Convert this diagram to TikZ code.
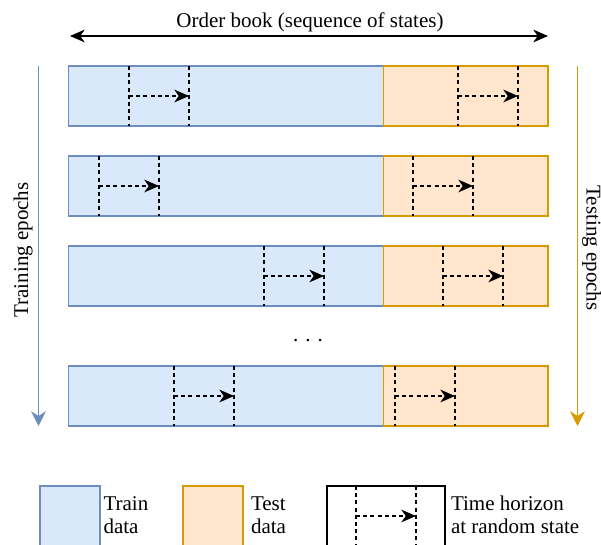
\documentclass[tikz,border=0pt]{standalone}
\usepackage{fontspec}
\setmainfont{Liberation Serif}
\usetikzlibrary{arrows.meta}

\definecolor{trainfill}{HTML}{DAE8FC}
\definecolor{trainline}{HTML}{6C8EBF}
\definecolor{testfill}{HTML}{FFE6CC}
\definecolor{testline}{HTML}{D79B00}

\tikzset{
  lbl/.style={font=\fontsize{15.75pt}{17pt}\selectfont, inner sep=0pt, outer sep=0pt},
  box/.style={line width=1pt, inner sep=0pt, outer sep=0pt, anchor=north west, minimum height=45pt},
  trainrect/.style={box, draw=trainline, fill=trainfill, minimum width=236.25pt},
  testrect/.style={box, draw=testline, fill=testfill, minimum width=123.4pt},
  dashline/.style={line width=1pt, dash pattern=on 3pt off 2.4pt},
  dasharrow/.style={dashline, -{Stealth[length=11pt, width=9.5pt, inset=3.3pt]}},
  epocharrow/.style={line width=1.1pt, -{Stealth[length=11pt, width=11pt, inset=3.5pt]}},
}

% a time-horizon marker: two dashed bounds 60px apart and a dashed arrow between them
\newcommand\horizonmark[4]{%
  \coordinate (#1-lt) at (#2,#3);
  \coordinate (#1-lb) at (#2,#3+#4);
  \coordinate (#1-rt) at (#2+60,#3);
  \coordinate (#1-rb) at (#2+60,#3+#4);
  \coordinate (#1-s) at (#2,#3+#4/2);
  \coordinate (#1-e) at (#2+60,#3+#4/2);
  \draw[dashline] (#1-lt) -- (#1-lb);
  \draw[dashline] (#1-rt) -- (#1-rb);
  \draw[dasharrow] (#1-s) -- (#1-e);
}

\begin{document}
\begin{tikzpicture}[x=0.75pt, y=-0.75pt]
\clip (0,0) rectangle (601,545);
\fill[white] (0,0) rectangle (601,545);

% header: the whole order book
\node[lbl, anchor=base] (title) at (310,28) {Order book (sequence of states)};
\coordinate (bookL) at (70,36);
\coordinate (bookR) at (548,36);
\draw[line width=1.3pt, {Stealth[length=11pt, width=9.5pt, inset=3.3pt]}-{Stealth[length=11pt, width=9.5pt, inset=3.3pt]}] (bookL) -- (bookR);

% epochs: train split followed by test split
\foreach \row/\top/\xa/\xb in {1/66/129/458, 2/156/99/413, 3/246/264/443, 4/366/174/395} {
  \node[trainrect] (train\row) at (68.5,\top) {};
  \node[testrect] (test\row) at (383.5,\top) {};
  \horizonmark{h\row a}{\xa}{\top}{60}
  \horizonmark{h\row b}{\xb}{\top}{60}
}

\node[lbl, anchor=base] (dots) at (308,342) {. . .};

% epoch direction arrows
\coordinate (trainS) at (38.5,66);
\coordinate (trainE) at (38.5,426);
\draw[epocharrow, trainline] (trainS) -- (trainE);
\node[lbl, rotate=90, anchor=base] (trainlbl) at (28,250) {Training epochs};

\coordinate (testS) at (577.5,66);
\coordinate (testE) at (577.5,426);
\draw[epocharrow, testline] (testS) -- (testE);
\node[lbl, rotate=-90, anchor=base] (testlbl) at (586.5,248) {Testing epochs};

% legend
\node[trainrect, minimum width=45pt] (legtrain) at (40,486) {};
\node[lbl, anchor=base west] (legtrain1) at (103.5,510.7) {Train};
\node[lbl, anchor=base west] (legtrain2) at (103.5,534) {data};

\node[testrect, minimum width=45pt] (legtest) at (183,486) {};
\node[lbl, anchor=base west] (legtest1) at (251,510.7) {Test};
\node[lbl, anchor=base west] (legtest2) at (251,534) {data};

\node[box, draw=black, fill=white, minimum width=88.5pt] (leghor) at (327,486) {};
\horizonmark{hl}{356}{486}{60}
\node[lbl, anchor=base west] (leghor1) at (451,510.7) {Time horizon};
\node[lbl, anchor=base west] (leghor2) at (451,534) {at random state};
\end{tikzpicture}
\end{document}
